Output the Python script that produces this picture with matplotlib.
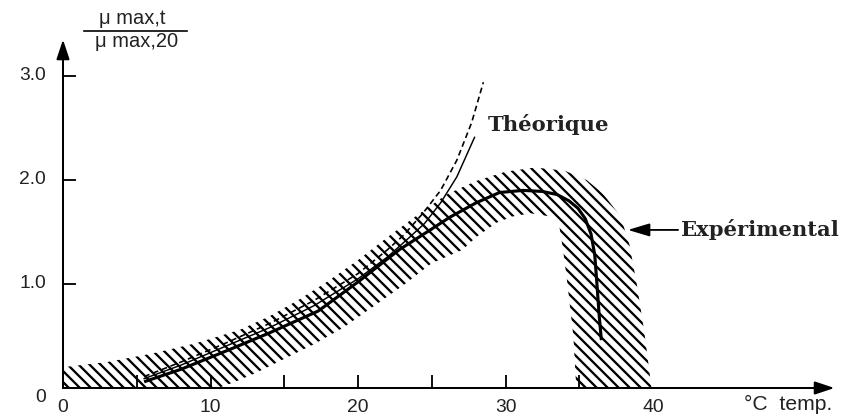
import matplotlib
matplotlib.use("Agg")
import matplotlib.pyplot as plt

# ---------------- data ----------------
# hatched experimental band (closed outline: upper edge left->right, lower edge right->left)
band_upper_t = [0, 3, 6, 9, 12, 14, 16, 18, 20, 22, 24, 26, 28, 30, 32, 34, 35.5, 36.6, 37.8, 38.4, 38.9, 39.4, 39.9]
band_upper_v = [0.20, 0.25, 0.33, 0.43, 0.56, 0.69, 0.85, 1.03, 1.23, 1.45, 1.66, 1.86, 1.99, 2.08, 2.12, 2.09, 2.00, 1.87, 1.65, 1.38, 1.00, 0.55, 0.00]
band_lower_t = [34.8, 34.6, 34.2, 33.9, 33.6, 33.0, 31.7, 30.5, 29.4, 28.0, 27.1, 25.0, 23.0, 21.0, 19.0, 17.0, 15.0, 13.0, 11.5, 10.5, 0]
band_lower_v = [0.00, 0.50, 1.00, 1.33, 1.60, 1.65, 1.68, 1.65, 1.59, 1.45, 1.33, 1.20, 0.98, 0.78, 0.58, 0.42, 0.28, 0.14, 0.05, 0.00, 0.00]

# experimental curve (thick line)
exp_t = [5.5, 8, 11.3, 14, 17.3, 20, 22.8, 24.9, 26.2, 28, 29.6, 31.2, 32.5, 33.5, 34.3, 34.9, 35.4, 35.8, 36.05, 36.2, 36.35, 36.5]
exp_v = [0.06, 0.18, 0.37, 0.53, 0.74, 1.02, 1.33, 1.52, 1.64, 1.78, 1.88, 1.90, 1.89, 1.86, 1.80, 1.73, 1.63, 1.48, 1.28, 1.00, 0.70, 0.46]

# theoretical curve (thin solid)
theo_t = [5.5, 8, 11, 14, 17, 20, 22, 23.5, 24.5, 25.6, 26.7, 27.9]
theo_v = [0.09, 0.22, 0.40, 0.58, 0.79, 1.05, 1.26, 1.45, 1.58, 1.78, 2.03, 2.41]

# theoretical curve (dashed)
theo2_t = [5.5, 8, 11, 14, 17, 20, 22, 23.1, 24.4, 25.6, 26.7, 27.7, 28.5]
theo2_v = [0.11, 0.25, 0.43, 0.62, 0.84, 1.10, 1.33, 1.47, 1.68, 1.90, 2.19, 2.55, 2.94]

x_tick_marks = [5, 10, 15, 20, 25, 30, 35]
x_tick_labels = ["0", "10", "20", "30", "40"]
x_tick_label_pos = [0, 10, 20, 30, 40]
y_tick_marks = [1, 2, 3]
y_tick_labels = ["0", "1.0", "2.0", "3.0"]
y_tick_label_pos = [0, 1, 2, 3]

ylabel_top = "\u03bc max,t"
ylabel_bottom = "\u03bc max,20"
xlabel = "\u00b0C  temp."
label_theo = "Théorique"
label_exp = "Expérimental"

# ---------------- figure ----------------
DPI = 132
plt.rcParams["hatch.linewidth"] = 1.25
plt.rcParams["hatch.color"] = "black"
fig = plt.figure(figsize=(842 / DPI, 419 / DPI), dpi=DPI)
ax = fig.add_axes([0, 0, 1, 1])
px_per_t = 14.75
px_per_v = 104.0
ax.set_xlim(-63 / px_per_t, (842 - 63) / px_per_t)
ax.set_ylim(-31 / px_per_v, (419 - 31) / px_per_v)

for s in ax.spines.values():
    s.set_visible(False)
ax.spines["left"].set_position(("data", 0))
ax.spines["bottom"].set_position(("data", 0))

# hatched band
ax.fill(band_upper_t + band_lower_t, band_upper_v + band_lower_v,
        facecolor="none", edgecolor="black", hatch="\\\\\\\\", linewidth=0, zorder=1)

# curves
ax.plot(theo2_t, theo2_v, color="black", lw=0.9, ls=(0, (3.5, 2.2)), zorder=3)
ax.plot(theo_t, theo_v, color="black", lw=0.8, zorder=3)
ax.plot(exp_t, exp_v, color="black", lw=1.7, solid_capstyle="butt", zorder=4)

# axes arrows
ax.annotate("", xy=(52.3, 0), xytext=(0, 0),
            arrowprops=dict(arrowstyle="-|>,head_length=0.9,head_width=0.3",
                            lw=1.1, color="black", shrinkA=0, shrinkB=0), zorder=5)
ax.annotate("", xy=(0, 3.35), xytext=(0, 0),
            arrowprops=dict(arrowstyle="-|>,head_length=0.9,head_width=0.3",
                            lw=1.1, color="black", shrinkA=0, shrinkB=0), zorder=5)

# tick marks (pointing inward)
ax.set_xticks(x_tick_marks)
ax.set_xticklabels([])
ax.set_yticks(y_tick_marks)
ax.set_yticklabels([])
ax.tick_params(axis="x", direction="in", length=7, width=1.0, color="black")
ax.tick_params(axis="y", direction="in", length=7, width=1.0, color="black")

sans = "Liberation Sans"
tcol = "#222222"
for p, lab in zip(x_tick_label_pos, x_tick_labels):
    ax.text(p, -0.19, lab, ha="center", va="center", fontsize=10.5, family=sans, color=tcol)
for p, lab in zip(y_tick_label_pos, y_tick_labels):
    yy = p if p > 0 else -0.09
    ax.text(-1.15, yy, lab, ha="right", va="center", fontsize=10.5, family=sans, color=tcol)

ax.text(46.2, -0.16, xlabel, ha="left", va="center", fontsize=11.5, family=sans, color=tcol)

# y label as a fraction
ax.text(4.7, 3.55, ylabel_top, ha="center", va="center", fontsize=11, family=sans, color=tcol)
ax.plot([1.4, 8.4], [3.43, 3.43], color="black", lw=0.9, clip_on=False)
ax.text(5.0, 3.33, ylabel_bottom, ha="center", va="center", fontsize=11, family=sans, color=tcol)

# annotations
ax.text(28.8, 2.53, label_theo, ha="left", va="center", fontsize=11.5,
        family="DejaVu Serif", fontweight="bold", color=tcol)
ax.text(41.9, 1.52, label_exp, ha="left", va="center", fontsize=11.5,
        family="DejaVu Serif", fontweight="bold", color=tcol)
ax.annotate("", xy=(38.3, 1.52), xytext=(41.7, 1.52),
            arrowprops=dict(arrowstyle="-|>,head_length=1.0,head_width=0.3",
                            lw=1.0, color="black", shrinkA=0, shrinkB=0))

fig.savefig("out.png", dpi=DPI)
